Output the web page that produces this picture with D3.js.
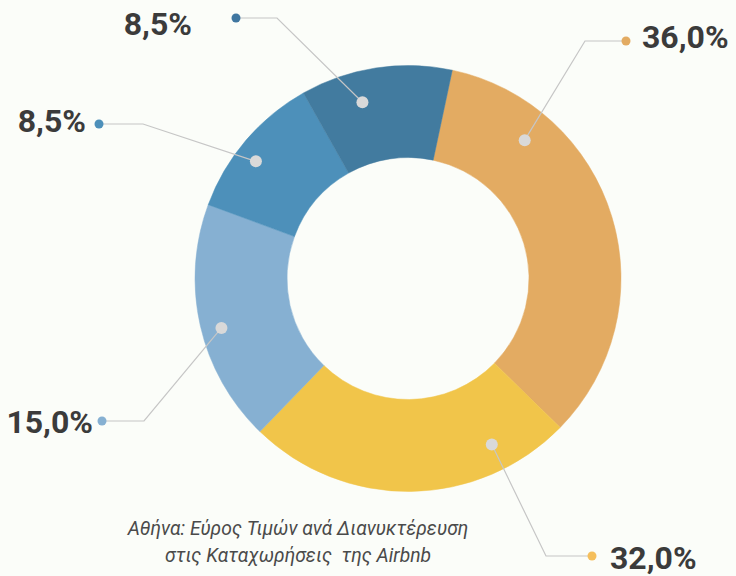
<!DOCTYPE html>
<html>
<head>
<meta charset="utf-8">
<script src="https://cdn.jsdelivr.net/npm/d3@7"></script>
<style>
  body { margin: 0; background: #fbfdf9; }
  svg { display: block; }
</style>
</head>
<body>
<svg id="chart" width="736" height="576"></svg>
<script>
const categories = ["orange", "yellow", "lightblue", "midblue", "darkblue"];
const sliceValues = [34.0, 24.9, 18.4, 11.2, 11.5];
const percentLabels = ["36,0%", "32,0%", "15,0%", "8,5%", "8,5%"];
const captionLines = ["Αθήνα: Εύρος Τιμών ανά Διανυκτέρευση", "στις Καταχωρήσεις  της Airbnb"];

const colors = ["#e3ab62", "#f1c54a", "#86b0d2", "#4d90ba", "#427b9f"];
const tipColors = ["#e3ab62", "#f5bf5c", "#86b0d2", "#4d90ba", "#3f76a0"];

// callout layout: where along the slice the grey dot sits, and label anchor
const callouts = [
    { frac: 0.23, r: 181, x: 626, y: 41,  side: "right", elbow: 585, tx: 642, ty: 48 },
    { frac: 0.21, r: 186, x: 592, y: 556, side: "right", elbow: 546, tx: 610, ty: 569 },
    { frac: 0.47, r: 193, x: 102, y: 421, side: "left",  elbow: 144, tx: 93,  ty: 433 },
    { frac: 0.43, r: 192, x: 99,  y: 124, side: "left",  elbow: 143, tx: 86,  ty: 132 },
    { frac: 0.36, r: 182, x: 236, y: 18,  side: "left",  elbow: 277, tx: 192, ty: 35 }
];

const svg = d3.select("#chart");
const cx = 408, cy = 278.5;
const outerR = 213, innerR = 121;
const startDeg = 12;

const pie = d3.pie()
    .sort(null)
    .value(d => d)
    .startAngle(startDeg * Math.PI / 180)
    .endAngle(startDeg * Math.PI / 180 + 2 * Math.PI);

const arcs = pie(sliceValues);
const arc = d3.arc().innerRadius(innerR).outerRadius(outerR);

const g = svg.append("g").attr("transform", `translate(${cx},${cy})`);

g.selectAll("path.slice")
    .data(arcs)
    .enter().append("path")
    .attr("class", "slice")
    .attr("d", arc)
    .attr("fill", (d, i) => colors[i])
    .attr("stroke", (d, i) => colors[i])
    .attr("stroke-width", 0.5);

// grey dot position on each slice
const dotPos = arcs.map((d, i) => {
    const c = callouts[i];
    const a = d.startAngle + c.frac * (d.endAngle - d.startAngle);
    return [cx + c.r * Math.sin(a), cy - c.r * Math.cos(a)];
});

const lines = svg.append("g");
callouts.forEach((c, i) => {
    const p = dotPos[i];
    lines.append("polyline")
        .attr("points", `${p[0]},${p[1]} ${c.elbow},${c.y} ${c.x},${c.y}`)
        .attr("fill", "none")
        .attr("stroke", "#c6c6c6")
        .attr("stroke-width", 1.2);
});

svg.append("g").selectAll("circle.inner")
    .data(dotPos)
    .enter().append("circle")
    .attr("cx", d => d[0])
    .attr("cy", d => d[1])
    .attr("r", 6)
    .attr("fill", "#d9d9d9");

svg.append("g").selectAll("circle.tip")
    .data(callouts)
    .enter().append("circle")
    .attr("cx", d => d.x)
    .attr("cy", d => d.y)
    .attr("r", 4.5)
    .attr("fill", (d, i) => tipColors[i]);

svg.append("g").selectAll("text.pct")
    .data(callouts)
    .enter().append("text")
    .attr("x", d => d.tx)
    .attr("y", d => d.ty)
    .attr("text-anchor", d => d.side === "right" ? "start" : "end")
    .attr("font-family", "Roboto, sans-serif")
    .attr("font-weight", "bold")
    .attr("font-size", 32)
    .attr("fill", "#3b3b3b")
    .text((d, i) => percentLabels[i]);

svg.append("g").selectAll("text.caption")
    .data(captionLines)
    .enter().append("text")
    .attr("x", 298)
    .attr("y", (d, i) => 535 + i * 27)
    .attr("text-anchor", "middle")
    .attr("font-family", "Roboto, sans-serif")
    .attr("font-style", "italic")
    .attr("font-size", 19.3)
    .attr("fill", "#4a4a4a")
    .style("white-space", "pre")
    .text(d => d);
</script>
</body>
</html>
